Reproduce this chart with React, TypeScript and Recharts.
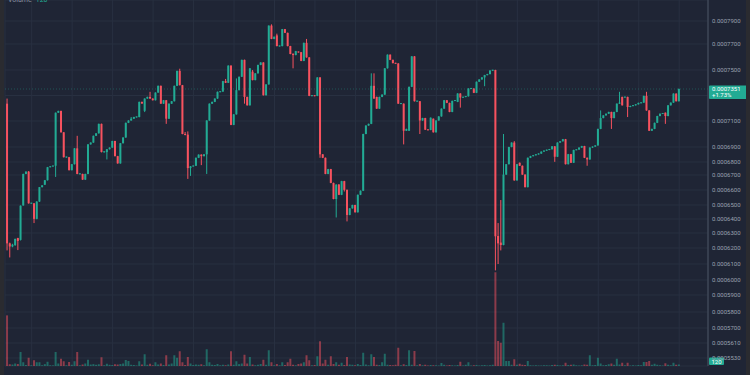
import { ComposedChart, Bar, XAxis, YAxis, CartesianGrid, ReferenceLine } from "recharts";

// prices are in units of 1e-7 (7351 -> 0.0007351), one candle per minute from 08:36
const OPEN = [
  7236, 6231, 6210, 6219, 6266, 6254, 6497, 6708, 6726, 6511,
  6511, 6401, 6523, 6619, 6635, 6665, 6760, 6767, 6771, 7165,
  7179, 7013, 6832, 6832, 6737, 6783, 6891, 6708, 6708, 6669,
  6708, 6920, 6934, 6986, 7005, 7078, 6866, 6866, 6885, 6896,
  6946, 6839, 6789, 6929, 6973, 7086, 7104, 7118, 7131, 7131,
  7250, 7180, 7276, 7289, 7276, 7263, 7323, 7376, 7236, 7263,
  7118, 7236, 7255, 7376, 7493, 7381, 7000, 6995, 6753, 6767,
  6771, 6828, 6849, 6839, 6851, 7104, 7236, 7250, 7276, 7329,
  7331, 7413, 7400, 7534, 7070, 7152, 7342, 7447, 7578, 7289,
  7223, 7487, 7421, 7474, 7539, 7558, 7302, 7387, 7860, 7744,
  7775, 7684, 7684, 7829, 7797, 7684, 7623, 7615, 7640, 7637,
  7570, 7710, 7597, 7297, 7300, 7297, 7442, 6851, 6828, 6708,
  6745, 6647, 6540, 6636, 6568, 6659, 6601, 6429, 6476, 6500,
  6448, 6568, 6595, 7000, 7065, 7078, 7376, 7289, 7197, 7289,
  7307, 7513, 7618, 7578, 7553, 7550, 7236, 7236, 7025, 7025,
  7368, 7605, 7255, 7255, 7104, 7123, 7033, 7031, 7118, 7013,
  7104, 7136, 7197, 7263, 7242, 7171, 7258, 7250, 7316, 7284,
  7289, 7294, 7355, 7355, 7321, 7408, 7426, 7442, 7460, 7468,
  7496, 7500, 6280, 6236, 6220, 6703, 6783, 6900, 6934, 6664,
  6794, 6771, 6703, 6619, 6828, 6839, 6845, 6851, 6856, 6869,
  6876, 6881, 6885, 6905, 6835, 6934, 6944, 6960, 6783, 6852,
  6794, 6880, 6883, 6896, 6907, 6828, 6817, 6896, 6903, 6912,
  7039, 7123, 7144, 7157, 7171, 7123, 7171, 7236, 7289, 7286,
  7289, 7210, 7218, 7223, 7231, 7242, 7244, 7297, 7183, 7025,
  7039, 7086, 7139, 7157, 7165, 7139, 7223, 7244, 7315, 7255,
];

const HIGH = [
  7276, 6236, 6228, 6262, 6268, 6497, 6710, 6728, 6730, 6515,
  6513, 6525, 6620, 6632, 6667, 6762, 6768, 6772, 7167, 7181,
  7181, 7015, 6836, 6834, 6785, 6893, 6986, 6712, 6710, 6710,
  6922, 6936, 6988, 7007, 7080, 7080, 6872, 6887, 6898, 6948,
  6948, 6841, 6931, 6975, 7088, 7106, 7131, 7133, 7135, 7252,
  7252, 7278, 7291, 7329, 7278, 7325, 7378, 7378, 7265, 7265,
  7238, 7257, 7378, 7495, 7510, 7383, 7015, 7020, 6769, 6773,
  6830, 6851, 6851, 6853, 7106, 7238, 7252, 7278, 7331, 7333,
  7415, 7430, 7536, 7536, 7154, 7434, 7449, 7580, 7580, 7291,
  7515, 7500, 7476, 7541, 7560, 7560, 7389, 7862, 7871, 7765,
  7790, 7688, 7831, 7831, 7799, 7686, 7630, 7647, 7642, 7639,
  7712, 7744, 7599, 7303, 7302, 7444, 7444, 6853, 6830, 6747,
  6747, 6649, 6638, 6640, 6661, 6661, 6603, 6478, 6502, 6502,
  6570, 6597, 7002, 7067, 7080, 7474, 7474, 7291, 7291, 7309,
  7515, 7620, 7620, 7580, 7556, 7553, 7240, 7238, 7041, 7370,
  7607, 7607, 7259, 7257, 7125, 7125, 7036, 7128, 7120, 7106,
  7138, 7199, 7265, 7265, 7244, 7260, 7265, 7318, 7318, 7291,
  7296, 7357, 7358, 7357, 7410, 7428, 7444, 7462, 7470, 7498,
  7502, 7502, 6371, 6533, 7000, 6785, 6902, 6936, 6945, 6785,
  6796, 6773, 6705, 6830, 6841, 6847, 6853, 6858, 6871, 6878,
  6883, 6887, 6907, 6907, 6936, 6946, 6962, 6962, 6854, 6854,
  6882, 6885, 6898, 6909, 6909, 6830, 6898, 6905, 6914, 7041,
  7183, 7146, 7159, 7173, 7173, 7173, 7238, 7329, 7291, 7291,
  7291, 7220, 7225, 7233, 7244, 7246, 7299, 7329, 7185, 7041,
  7088, 7141, 7159, 7163, 7167, 7225, 7246, 7317, 7317, 7355,
];

const LOW = [
  6185, 6141, 6205, 6215, 6187, 6250, 6495, 6706, 6509, 6508,
  6371, 6398, 6520, 6617, 6633, 6663, 6758, 6765, 6687, 7163,
  7011, 6830, 6828, 6735, 6735, 6781, 6706, 6705, 6667, 6667,
  6706, 6918, 6932, 6984, 7003, 6864, 6862, 6817, 6883, 6894,
  6837, 6787, 6787, 6927, 6971, 7084, 7102, 7116, 7127, 7129,
  7235, 7170, 7274, 7274, 7261, 7261, 7321, 7234, 7234, 7078,
  7116, 7234, 7253, 7374, 7379, 6998, 6990, 6674, 6694, 6765,
  6769, 6826, 6776, 6837, 6708, 7102, 7234, 7248, 7274, 7325,
  7329, 7398, 7398, 7068, 7068, 7150, 7340, 7445, 7236, 7221,
  7221, 7419, 7419, 7472, 7537, 7300, 7300, 7385, 7742, 7742,
  7682, 7680, 7682, 7795, 7682, 7621, 7513, 7613, 7635, 7568,
  7568, 7595, 7295, 7295, 7294, 7295, 6828, 6826, 6706, 6706,
  6645, 6538, 6411, 6566, 6566, 6590, 6383, 6427, 6474, 6446,
  6446, 6566, 6593, 6998, 7063, 7076, 7274, 7195, 7195, 7287,
  7305, 7511, 7576, 7551, 7548, 7234, 7232, 6920, 7023, 7023,
  7366, 7253, 7251, 7000, 7102, 7031, 7029, 7029, 7011, 7011,
  7102, 7134, 7195, 7240, 7169, 7169, 7256, 7248, 7205, 7282,
  7287, 7292, 7352, 7319, 7319, 7406, 7424, 7373, 7458, 7466,
  7494, 6060, 6100, 6185, 6218, 6701, 6781, 6898, 6662, 6662,
  6769, 6701, 6617, 6617, 6826, 6837, 6843, 6849, 6854, 6867,
  6874, 6879, 6883, 6801, 6833, 6932, 6942, 6781, 6781, 6792,
  6792, 6878, 6881, 6894, 6826, 6771, 6815, 6894, 6901, 6910,
  7037, 7121, 7142, 7155, 7039, 7121, 7169, 7234, 7221, 7284,
  7131, 7208, 7216, 7221, 7229, 7240, 7242, 7181, 7023, 7023,
  7037, 7084, 7137, 7155, 7078, 7137, 7221, 7242, 7253, 7253,
];

const CLOSE = [
  6231, 6210, 6222, 6261, 6247, 6495, 6708, 6726, 6511, 6513,
  6401, 6523, 6619, 6631, 6665, 6760, 6767, 6771, 7165, 7179,
  7013, 6832, 6834, 6737, 6783, 6891, 6708, 6710, 6669, 6708,
  6920, 6934, 6986, 7005, 7078, 6866, 6870, 6885, 6896, 6946,
  6839, 6789, 6929, 6973, 7086, 7104, 7118, 7131, 7133, 7250,
  7237, 7276, 7289, 7276, 7263, 7323, 7376, 7236, 7263, 7118,
  7236, 7255, 7376, 7493, 7381, 7000, 6992, 6753, 6767, 6771,
  6828, 6849, 6839, 6851, 7104, 7236, 7250, 7276, 7329, 7331,
  7413, 7400, 7534, 7070, 7152, 7342, 7447, 7578, 7289, 7223,
  7513, 7421, 7474, 7539, 7558, 7302, 7387, 7860, 7744, 7763,
  7684, 7686, 7829, 7797, 7684, 7623, 7615, 7645, 7637, 7570,
  7710, 7597, 7297, 7300, 7297, 7442, 6851, 6828, 6708, 6745,
  6647, 6540, 6636, 6568, 6659, 6601, 6429, 6476, 6500, 6448,
  6568, 6595, 7000, 7065, 7078, 7376, 7276, 7197, 7289, 7307,
  7513, 7618, 7578, 7553, 7550, 7236, 7238, 7025, 7039, 7368,
  7605, 7255, 7257, 7104, 7123, 7033, 7031, 7126, 7013, 7104,
  7136, 7197, 7263, 7242, 7171, 7258, 7263, 7316, 7284, 7289,
  7294, 7355, 7356, 7321, 7408, 7426, 7442, 7460, 7468, 7496,
  7500, 6278, 6231, 6220, 6703, 6783, 6900, 6934, 6664, 6783,
  6771, 6703, 6619, 6828, 6839, 6845, 6851, 6856, 6869, 6876,
  6881, 6885, 6905, 6835, 6934, 6944, 6960, 6783, 6852, 6794,
  6880, 6883, 6896, 6907, 6828, 6817, 6896, 6903, 6912, 7039,
  7123, 7144, 7157, 7171, 7123, 7171, 7236, 7244, 7223, 7289,
  7210, 7218, 7223, 7231, 7242, 7244, 7297, 7183, 7025, 7039,
  7086, 7139, 7157, 7160, 7139, 7223, 7244, 7315, 7255, 7351,
];

const VOLUME = [
  4050, 140, 120, 200, 160, 1120, 300, 80, 660, 60,
  460, 300, 300, 60, 150, 340, 60, 50, 1120, 200,
  580, 380, 60, 320, 100, 380, 1120, 60, 120, 200,
  500, 120, 150, 100, 140, 700, 60, 180, 100, 80,
  140, 120, 160, 200, 480, 400, 100, 80, 40, 380,
  120, 940, 100, 180, 60, 300, 120, 200, 80, 860,
  120, 200, 860, 660, 1180, 300, 80, 720, 200, 80,
  120, 100, 140, 60, 1340, 300, 100, 80, 160, 60,
  100, 60, 120, 1180, 100, 380, 150, 200, 900, 200,
  720, 120, 60, 100, 160, 500, 100, 1260, 300, 60,
  160, 60, 300, 80, 300, 580, 100, 60, 160, 200,
  300, 860, 460, 60, 80, 780, 1980, 200, 500, 100,
  780, 160, 300, 100, 260, 80, 720, 120, 100, 60,
  160, 80, 1060, 120, 60, 940, 720, 100, 80, 300,
  980, 100, 80, 60, 100, 1460, 60, 140, 80, 1260,
  100, 1200, 60, 160, 60, 100, 40, 80, 60, 60,
  40, 240, 100, 40, 80, 60, 40, 80, 340, 40,
  100, 300, 40, 60, 80, 40, 60, 80, 40, 60,
  100, 7500, 2000, 1860, 3460, 400, 400, 100, 540, 100,
  180, 100, 80, 400, 60, 40, 60, 40, 40, 60,
  60, 40, 80, 100, 80, 40, 60, 260, 80, 100,
  120, 60, 40, 60, 120, 100, 860, 60, 80, 660,
  200, 60, 80, 140, 200, 100, 580, 120, 260, 60,
  260, 40, 60, 40, 80, 60, 320, 320, 400, 100,
  180, 100, 60, 40, 220, 100, 60, 260, 100, 120,
];

const TIME_LABELS = ["08:45", "09:00", "09:15", "09:30", "09:45", "10:00", "10:15", "10:30", "10:45", "11:00", "11:15", "11:30", "11:45", "12:00", "12:15", "12:30", "12:45"];
const TIME_INDEX = [9, 24, 39, 54, 69, 84, 99, 114, 129, 144, 159, 174, 189, 204, 219, 234, 249];

const PRICE_TICKS = [5530, 5610, 5700, 5800, 5900, 6000, 6100, 6200, 6300, 6400, 6500, 6600, 6700, 6800, 6900, 7100, 7300, 7500, 7700, 7900];

// the source price axis is not evenly spaced; these knots describe where each price sits (0 = bottom, 1 = top)
const SCALE_KNOTS = [5487, 5530, 5610, 5700, 5800, 5900, 6000, 6100, 6200, 6300, 6400, 6500, 6600, 6700, 6800, 6900, 7100, 7500, 7700, 7900, 8083];
const SCALE_FRACS = [0, 0.0219, 0.0628, 0.1038, 0.1475, 0.194, 0.235, 0.2787, 0.3224, 0.3634, 0.4016, 0.4399, 0.4809, 0.5219, 0.5574, 0.5984, 0.6694, 0.8087, 0.8798, 0.9426, 1];

const LAST_PRICE = 7351;
const LAST_CHANGE = "+1.73%";
const LAST_VOLUME = 120;

const BG = "#1f2535";
const GRID = "#283041";
const UP = "#22ab94";
const DOWN = "#f7525f";
const UP_VOL = "rgba(34,171,148,0.5)";
const DOWN_VOL = "rgba(247,82,95,0.5)";
const TEXT = "#9aa1b0";
const FONT = "Roboto, 'Noto Sans', sans-serif";

const X_DOMAIN = [-0.89, 259.67];

function piecewiseScale(): any {
  let dom = [SCALE_KNOTS[0], SCALE_KNOTS[SCALE_KNOTS.length - 1]];
  let rng = [0, 1];
  const frac = (v: number) => {
    let k = 0;
    while (k < SCALE_KNOTS.length - 2 && v > SCALE_KNOTS[k + 1]) k++;
    const t = (v - SCALE_KNOTS[k]) / (SCALE_KNOTS[k + 1] - SCALE_KNOTS[k]);
    return SCALE_FRACS[k] + t * (SCALE_FRACS[k + 1] - SCALE_FRACS[k]);
  };
  const scale: any = (v: number) => {
    const f0 = frac(dom[0]);
    const f1 = frac(dom[1]);
    return rng[0] + ((frac(Number(v)) - f0) / (f1 - f0)) * (rng[1] - rng[0]);
  };
  scale.domain = (d?: any[]) => {
    if (!d) return dom.slice();
    dom = [Number(d[0]), Number(d[d.length - 1])];
    return scale;
  };
  scale.range = (r?: any[]) => {
    if (!r) return rng.slice();
    rng = [Number(r[0]), Number(r[r.length - 1])];
    return scale;
  };
  scale.copy = () => piecewiseScale().domain(dom).range(rng);
  scale.ticks = () => PRICE_TICKS.slice();
  return scale;
}

const priceScale = piecewiseScale();

const rows = OPEN.map((o, i) => ({
  idx: i,
  open: o,
  high: HIGH[i],
  low: LOW[i],
  close: CLOSE[i],
  volume: VOLUME[i],
}));

const fmtPrice = (v: number) => (v / 1e7).toFixed(7);

const Wick = (props: any) => {
  const { x, width, payload } = props;
  let { y, height } = props;
  if (x == null || y == null) return null;
  if (height < 0) { y += height; height = -height; }
  const up = payload.close >= payload.open;
  return <rect x={x + width / 2 - 0.5} y={y} width={1} height={Math.max(height, 1)} fill={up ? UP : DOWN} />;
};

const Body = (props: any) => {
  const { x, width, payload } = props;
  let { y, height } = props;
  if (x == null || y == null) return null;
  if (height < 0) { y += height; height = -height; }
  if (height < 1) { y -= (1 - height) / 2; height = 1; }
  const up = payload.close >= payload.open;
  return <rect x={x} y={y} width={width} height={height} fill={up ? UP : DOWN} />;
};

const VolBar = (props: any) => {
  const { x, y, width, height, payload } = props;
  if (x == null || y == null || !height) return null;
  const up = payload.close >= payload.open;
  return <rect x={x} y={y} width={width} height={Math.abs(height)} fill={up ? UP_VOL : DOWN_VOL} />;
};

const TimeTick = (props: any) => {
  const { x, y, payload } = props;
  const label = TIME_LABELS[TIME_INDEX.indexOf(payload.value)] ?? "";
  const hour = label.endsWith(":00");
  return (
    <text x={x} y={y} dy="0.71em" textAnchor="middle" fontSize={6} fontFamily={FONT}
      fontWeight={hour ? 700 : 400} fill={hour ? "#d1d4dc" : "#7f8696"}>
      {label}
    </text>
  );
};

const PriceTag = (props: any) => {
  const vb = props.viewBox || {};
  const x = vb.x + vb.width;
  const y = vb.y;
  return (
    <g>
      <rect x={x + 1} y={y - 3.5} width={39} height={13.5} fill={UP} rx={1} />
      <text x={x + 4} y={y - 1} dominantBaseline="central" fontSize={6} fontFamily={FONT} fill="#ffffff">
        {fmtPrice(LAST_PRICE)}
      </text>
      <text x={x + 4} y={y + 5.8} dominantBaseline="central" fontSize={6} fontFamily={FONT} fill="#ffffff">
        {LAST_CHANGE}
      </text>
    </g>
  );
};

const VolumeTag = (props: any) => {
  const vb = props.viewBox || {};
  const x = vb.x + vb.width;
  const y = vb.y;
  return (
    <g>
      <rect x={x + 1} y={y - 7} width={15} height={7.5} fill={UP} rx={1} />
      <text x={x + 8.5} y={y - 3.2} textAnchor="middle" dominantBaseline="central" fontSize={6} fontFamily={FONT} fill="#ffffff">
        {LAST_VOLUME}
      </text>
    </g>
  );
};

export default function App() {
  return (
    <div style={{ position: "absolute", left: 0, top: 0, width: 750, height: 375, overflow: "hidden", background: BG, fontFamily: FONT }}>
      <ComposedChart width={750} height={375} data={rows} margin={{ top: 0, right: 0, bottom: 0, left: 5 }}>
        <CartesianGrid xAxisId="main" yAxisId="price" stroke={GRID} strokeWidth={1} />
        <XAxis
          xAxisId="main"
          dataKey="idx"
          type="number"
          domain={X_DOMAIN}
          allowDataOverflow
          ticks={TIME_INDEX}
          interval={0}
          height={9}
          tickSize={0}
          tickMargin={1}
          tickLine={false}
          axisLine={{ stroke: "#4b5263" }}
          tick={<TimeTick />}
        />
        <XAxis xAxisId="body" dataKey="idx" type="number" domain={X_DOMAIN} allowDataOverflow hide />
        <XAxis xAxisId="vol" dataKey="idx" type="number" domain={X_DOMAIN} allowDataOverflow hide />
        <YAxis
          yAxisId="price"
          orientation="right"
          type="number"
          domain={[SCALE_KNOTS[0], SCALE_KNOTS[SCALE_KNOTS.length - 1]]}
          allowDataOverflow
          scale={priceScale}
          ticks={PRICE_TICKS}
          interval={0}
          width={42}
          tickSize={0}
          tickMargin={4}
          tickLine={false}
          axisLine={{ stroke: "#4b5263" }}
          tick={{ fill: TEXT, fontSize: 6, fontFamily: FONT }}
          tickFormatter={(v: number) => (v === 7300 ? "" : fmtPrice(v))}
        />
        <YAxis yAxisId="vol" type="number" domain={[0, 29280]} allowDataOverflow hide />

        <Bar xAxisId="vol" yAxisId="vol" dataKey="volume" barSize={2} shape={<VolBar />} isAnimationActive={false} />

        <ReferenceLine
          xAxisId="main"
          yAxisId="price"
          y={LAST_PRICE}
          stroke={UP}
          strokeOpacity={0.35}
          strokeDasharray="1 2"
          label={<PriceTag />}
        />
        <ReferenceLine xAxisId="main" yAxisId="vol" y={LAST_VOLUME} stroke="none" label={<VolumeTag />} />

        <Bar
          xAxisId="main"
          yAxisId="price"
          dataKey={(d: any) => [d.low, d.high]}
          barSize={2}
          shape={<Wick />}
          isAnimationActive={false}
        />
        <Bar
          xAxisId="body"
          yAxisId="price"
          dataKey={(d: any) => [Math.min(d.open, d.close), Math.max(d.open, d.close)]}
          barSize={2}
          shape={<Body />}
          isAnimationActive={false}
        />
      </ComposedChart>

      <div style={{ position: "absolute", left: 0, top: 0, width: 4, height: 375, background: "#2a2b30" }} />
      <div style={{ position: "absolute", right: 0, top: 0, width: 4, height: 375, background: "#2a2b30" }} />
      <div style={{ position: "absolute", left: 8, top: -4, fontSize: 7, lineHeight: "8px", whiteSpace: "nowrap" }}>
        <span style={{ color: "#8a91a0" }}>Volume</span>
        <span style={{ color: UP, marginLeft: 4 }}>{LAST_VOLUME}</span>
      </div>
    </div>
  );
}
